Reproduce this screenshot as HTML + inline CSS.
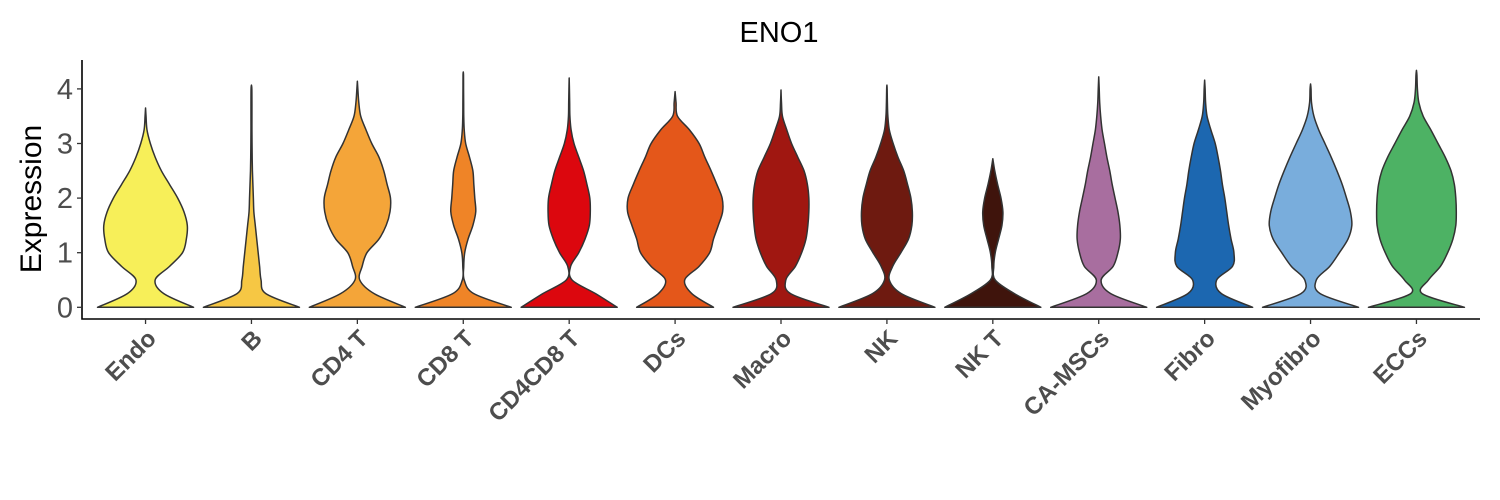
<!DOCTYPE html>
<html><head><meta charset="utf-8"><style>
body{margin:0;background:#fff}
svg{display:block;font-family:"Liberation Sans",sans-serif}
</style></head><body>
<svg id="chart" width="1500" height="500" viewBox="0 0 1500 500">
<text x="779" y="42" font-size="29" text-anchor="middle" fill="#000">ENO1</text>
<text transform="translate(41,199) rotate(-90)" font-size="30" text-anchor="middle" fill="#000">Expression</text>
<g id="violins"></g>
<g id="axes"></g>
</svg>
<script>
const categories=["Endo","B","CD4 T","CD8 T","CD4CD8 T","DCs","Macro","NK","NK T","CA-MSCs","Fibro","Myofibro","ECCs"];
const colors=["#F7EF59","#F6C744","#F4A539","#EF8427","#DC070E","#E4571A","#A01711","#6E1A10","#3F140C","#A86E9F","#1C67B0","#79ADDC","#4DB264"];
const maxValues=[3.65,4.07,4.14,4.31,4.2,3.95,3.98,4.07,2.72,4.22,4.16,4.09,4.34];
const densityStep=0.25;
const densities=[
[1,.38,.2,.5,.77,.85,.87,.8,.67,.5,.33,.2,.1,.03,.01],
[1,.3,.2,.17,.14,.11,.08,.05,.04,.03,.02,.015,.012,.01,.01,.01,.008],
[1,.35,.05,.1,.2,.45,.6,.68,.69,.62,.55,.45,.3,.18,.07,.03,.01],
[1,.22,.02,.01,.03,.1,.2,.26,.24,.22,.2,.13,.05,.02,.01,.008,.006,.005],
[1,.55,.06,.03,.2,.33,.42,.44,.43,.37,.3,.2,.1,.04,.015,.01,.005],
[.8,.35,.2,.5,.72,.8,.9,.99,.98,.87,.75,.62,.5,.3,.05,.02],
[1,.2,.1,.3,.43,.52,.56,.58,.58,.55,.48,.35,.22,.12,.03,.01],
[1,.3,.05,.12,.29,.45,.52,.53,.5,.43,.35,.23,.13,.05,.02,.01,.005],
[1,.45,.05,.02,.05,.12,.19,.21,.17,.1,.04],
[1,.25,.05,.3,.4,.45,.44,.4,.34,.28,.23,.17,.12,.07,.04,.02,.01],
[1,.35,.25,.58,.61,.55,.5,.46,.42,.37,.33,.28,.22,.13,.05,.02,.01],
[1,.2,.12,.4,.6,.78,.86,.83,.75,.66,.55,.43,.3,.17,.07,.02,.01],
[1,.12,.25,.5,.65,.76,.82,.83,.82,.79,.72,.6,.45,.3,.14,.05,.02,.01]
];
const yTicks=[0,1,2,3,4];
const NS="http://www.w3.org/2000/svg";
const X0=82,X1=1480,Y0=307.3,UNIT=54.6,AXY=319,HALF=48;
const band=(X1-X0)/(categories.length-1+1.2);
const xPos=i=>X0+band*(0.6+i);
const yPos=v=>Y0-v*UNIT;
function mk(tag,attrs){const e=document.createElementNS(NS,tag);for(const k in attrs)e.setAttribute(k,attrs[k]);return e;}
function spline(pts){
  let d="M"+pts[0][0].toFixed(2)+","+pts[0][1].toFixed(2);
  for(let i=0;i<pts.length-1;i++){
    const p0=pts[Math.max(i-1,0)],p1=pts[i],p2=pts[i+1],p3=pts[Math.min(i+2,pts.length-1)];
    const c1=[p1[0]+(p2[0]-p0[0])/6,p1[1]+(p2[1]-p0[1])/6];
    const c2=[p2[0]-(p3[0]-p1[0])/6,p2[1]-(p3[1]-p1[1])/6];
    d+="C"+c1[0].toFixed(2)+","+c1[1].toFixed(2)+" "+c2[0].toFixed(2)+","+c2[1].toFixed(2)+" "+p2[0].toFixed(2)+","+p2[1].toFixed(2);
  }
  return d;
}
const vg=document.getElementById("violins");
categories.forEach((c,i)=>{
  const cx=xPos(i),dens=densities[i],mx=maxValues[i];
  const prof=[];
  dens.forEach((w,k)=>{const v=k*densityStep;if(v<mx)prof.push([v,w]);});
  prof.push([mx,0]);
  const right=prof.map(p=>[cx+p[1]*HALF,yPos(p[0])]);
  const left=prof.slice().reverse().map(p=>[cx-p[1]*HALF,yPos(p[0])]);
  let d=spline(right);
  d+=spline(left).replace(/^M/,"L")+"Z";
  const p=mk("path",{d:d,fill:colors[i],stroke:"#333",'stroke-width':1.5,'stroke-linejoin':"round"});
  
  
  vg.appendChild(p);
});
const ag=document.getElementById("axes");
ag.appendChild(mk("path",{d:`M${X0},60 L${X0},${AXY} L${X1},${AXY}`,fill:"none",stroke:"#000",'stroke-width':1.6}));
yTicks.forEach(t=>{
  const y=yPos(t);
  ag.appendChild(mk("line",{x1:X0-5,x2:X0,y1:y,y2:y,stroke:"#333",'stroke-width':1.3}));
  const tx=mk("text",{x:X0-9,y:y+10,'font-size':29,'text-anchor':"end",fill:"#4d4d4d"});
  tx.textContent=t;
  
  
  ag.appendChild(tx);
});
categories.forEach((c,i)=>{
  const x=xPos(i);
  ag.appendChild(mk("line",{x1:x,x2:x,y1:AXY,y2:AXY+5,stroke:"#333",'stroke-width':1.3}));
  const tx=mk("text",{transform:`translate(${x+12},${AXY+21}) rotate(-45)`,'font-size':24,'font-weight':"bold",'text-anchor':"end",fill:"#4d4d4d"});
  tx.textContent=c;
  
  
  ag.appendChild(tx);
});
</script>
</body></html>
